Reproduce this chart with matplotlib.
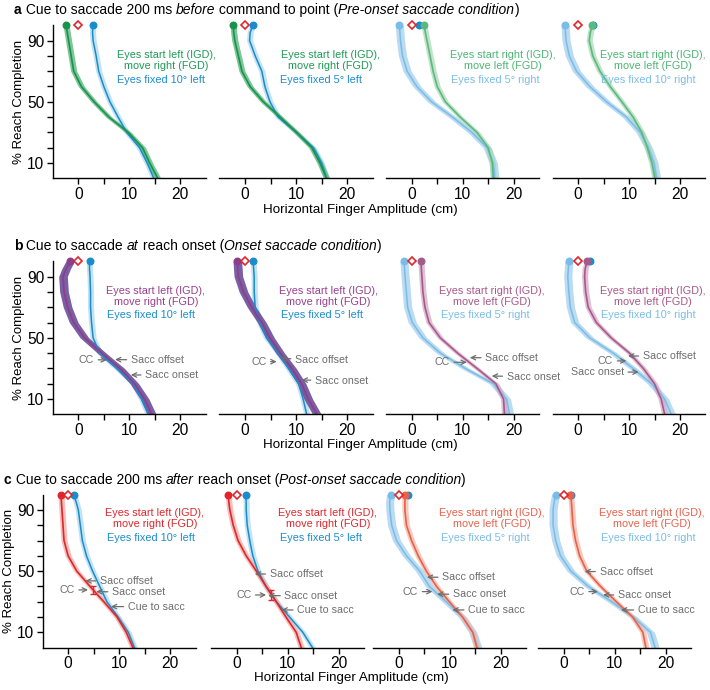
import numpy as np
import matplotlib
matplotlib.use('Agg')
import matplotlib.pyplot as plt

plt.rcParams['font.family'] = ['Liberation Sans', 'DejaVu Sans']

W, H = 710, 690

levels = [100, 95, 90, 80, 70, 60, 50, 40, 30, 20, 10, 0]

# finger amplitude (cm), saccade trials, one list per panel (columns 1-4)
a_sacc = [
    [-2.4, -2.15, -1.9, -1.4, -0.9, 0.6, 3.1, 6.0, 9.8, 12.6, 14.0, 15.6],
    [-2.3, -2.2, -2.0, -1.3, -0.6, 1.0, 3.6, 6.9, 10.1, 13.1, 14.7, 16.0],
    [2.4, 2.7, 3.0, 3.6, 4.2, 5.0, 6.6, 9.5, 12.8, 15.0, 15.8, 16.0],
    [2.8, 2.4, 2.2, 2.9, 4.3, 6.3, 8.6, 10.8, 12.5, 13.6, 14.5, 15.1],
]
a_fix = [
    [2.8, 2.8, 2.9, 3.5, 4.0, 5.0, 6.2, 7.8, 9.5, 12.0, 13.5, 14.8],
    [1.5, 1.0, 0.9, 2.0, 3.3, 3.9, 4.9, 6.5, 10.1, 13.4, 15.0, 16.0],
    [-2.4, -2.3, -2.2, -1.8, -0.9, 1.0, 3.9, 8.0, 11.8, 14.8, 16.0, 16.3],
    [-2.55, -2.45, -2.35, -1.7, -0.3, 2.3, 5.6, 9.5, 12.2, 13.8, 14.9, 15.4],
]
b_sacc = [
    [-1.6, -2.4, -3.0, -2.8, -2.1, -0.9, 1.2, 4.6, 8.2, 11.0, 13.0, 14.4],
    [-1.5, -1.4, -1.3, -0.3, 1.3, 3.3, 4.9, 6.9, 9.2, 11.1, 12.4, 14.1],
    [1.8, 1.9, 2.0, 2.2, 2.6, 3.4, 5.6, 9.0, 12.8, 16.5, 18.0, 18.2],
    [1.8, 1.4, 1.3, 1.5, 2.0, 3.6, 6.5, 10.1, 12.8, 15.0, 16.3, 17.0],
]
b_fix = [
    [2.2, 2.2, 2.3, 2.4, 2.4, 2.6, 2.9, 4.2, 7.5, 10.8, 12.4, 13.7],
    [1.6, 1.7, 1.8, 1.8, 2.0, 2.9, 4.2, 6.5, 8.5, 10.5, 11.4, 12.1],
    [-1.5, -1.4, -1.3, -1.05, -0.8, 0.1, 2.2, 5.6, 10.5, 16.0, 18.6, 19.2],
    [-1.8, -1.9, -2.0, -1.8, -1.5, -0.65, 2.3, 6.9, 10.8, 14.4, 17.0, 18.3],
]
c_sacc = [
    [-1.4, -1.3, -1.2, -1.0, -0.8, 0.0, 1.7, 4.3, 7.0, 9.6, 11.4, 12.7],
    [-1.6, -1.5, -1.3, -0.65, 0.3, 1.9, 3.9, 5.8, 7.8, 9.7, 11.7, 12.7],
    [1.2, 1.2, 1.2, 1.5, 2.5, 3.8, 5.4, 7.4, 9.9, 12.5, 14.5, 15.3],
    [1.3, 1.5, 1.6, 1.8, 2.3, 3.1, 4.5, 7.2, 10.3, 13.5, 15.5, 16.1],
]
c_fix = [
    [1.1, 1.6, 2.0, 2.4, 2.8, 3.6, 4.8, 6.2, 7.6, 9.8, 11.8, 13.0],
    [1.8, 1.9, 1.9, 2.1, 2.6, 3.2, 4.2, 5.8, 7.8, 10.4, 13.0, 14.9],
    [-1.6, -1.8, -1.75, -1.4, -0.45, 1.5, 4.1, 6.0, 9.3, 12.5, 14.5, 15.5],
    [-1.6, -1.9, -2.1, -2.1, -1.6, -0.65, 1.4, 4.8, 9.4, 13.6, 17.0, 17.9],
]
# extra start markers (fixation position) per panel
a_extra = [[], [], [1.5], [2.9]]
b_extra = [[], [], [], [2.3]]
c_extra = [[], [], [1.8], [1.5]]

# CC spread shown as a small bar on the post-onset left panels: (x, y, half range)
c_cc_bars = [(4.9, 37.7, 2.5), (6.8, 34.4, 3.0), None, None]

# saccade events: (label, x, y) in data units
b_events = [
    [('CC', 5.6, 35.5), ('Sacc offset', 7.2, 35.8), ('Sacc onset', 10.3, 25.7)],
    [('CC', 6.2, 34.4), ('Sacc offset', 6.9, 36.6), ('Sacc onset', 11.1, 22.4)],
    [('CC', 10.8, 34.0), ('Sacc offset', 11.4, 37.0), ('Sacc onset', 15.7, 25.0)],
    [('CC', 9.5, 34.9), ('Sacc offset', 9.8, 38.1), ('Sacc onset', 11.9, 27.6)],
]
c_events = [
    [('CC', 3.9, 37.7), ('Sacc offset', 3.4, 43.6), ('Sacc onset', 5.5, 36.6), ('Cue to sacc', 8.4, 26.8)],
    [('CC', 5.8, 34.4), ('Sacc offset', 3.6, 48.1), ('Sacc onset', 6.2, 34.0), ('Cue to sacc', 8.8, 24.6)],
    [('CC', 6.6, 36.6), ('Sacc offset', 5.5, 46.0), ('Sacc onset', 7.5, 34.9), ('Cue to sacc', 10.5, 24.6)],
    [('CC', 6.7, 36.6), ('Sacc offset', 4.1, 49.7), ('Sacc onset', 7.7, 34.4), ('Cue to sacc', 11.2, 24.6)],
]
# label offsets from the arrow tip (x, y in data units)
b_offsets = [
    [(-2.5, 0.3), (3.1, -0.5), (2.8, 0)],
    [(-2.0, 0), (2.9, -1.1), (2.6, -0.4)],
    [(-3.3, 0), (3.0, 0), (2.9, -0.4)],
    [(-2.6, 0), (2.9, 0), (-2.9, 0)],
]
c_offsets = [
    [(-2.6, 0), (2.8, 0), (3.1, -0.4), (3.3, 0)],
    [(-2.9, 0), (2.9, 0), (3.2, -0.2), (3.1, 0)],
    [(-2.8, 0), (3.0, 0), (3.1, 0), (3.1, 0)],
    [(-2.6, 0), (2.9, 0), (2.9, 0), (3.3, 0)],
]

sacc_text = ['Eyes start left (IGD),\nmove right (FGD)'] * 2 + ['Eyes start right (IGD),\nmove left (FGD)'] * 2
fix_text = ['Eyes fixed 10° left', 'Eyes fixed 5° left', 'Eyes fixed 5° right', 'Eyes fixed 10° right']

titles = [
    [('a', 'bold'), (' Cue to saccade 200 ms ', 'normal'), ('before', 'italic'),
     (' command to point (', 'normal'), ('Pre-onset saccade condition', 'italic'), (')', 'normal')],
    [('b', 'bold'), (' Cue to saccade ', 'normal'), ('at', 'italic'),
     (' reach onset (', 'normal'), ('Onset saccade condition', 'italic'), (')', 'normal')],
    [('c', 'bold'), (' Cue to saccade 200 ms ', 'normal'), ('after', 'italic'),
     (' reach onset (', 'normal'), ('Post-onset saccade condition', 'italic'), (')', 'normal')],
]

blue_dark = '#1a8ccc'
blue_light = '#79bde6'
gray = '#6d6d6d'
row_colors = [
    # (left sacc line, left band, right sacc line, right band, left text, right text)
    ('#17934c', '#48ad6c', '#5cb97e', '#a6d8b4', '#1f9a55', '#4db574'),
    ('#8e3d88', '#6a4e9a', '#a65a8c', '#d3a6c4', '#973f8d', '#a8578a'),
    ('#e0262b', '#f2a5a0', '#e8614a', '#f4b4a6', '#e0262b', '#e8614a'),
]

fig = plt.figure(figsize=(7.1, 6.9), dpi=100)
renderer = fig.canvas.get_renderer()


def size_for(text, width_px):
    # font size that gives the text the width it has in the original figure
    t = fig.text(0, 0, text, fontsize=10)
    w = t.get_window_extent(renderer).width
    t.remove()
    return 10 * width_px / w


fs_panel = size_for('Eyes start left (IGD),', 99)
fs_event = size_for('Sacc offset', 53)
fs_xlab = size_for('Horizontal Finger Amplitude (cm)', 196)
fs_ylab = size_for('% Reach Completion', 125)
fs_tick = size_for('20', 17.5)
fs_title = size_for('a Cue to saccade 200 ms before command to point (Pre-onset saccade condition)', 506)


def ax_rect(left, top, width, height):
    return [left / W, 1 - (top + height) / H, width / W, height / H]


def style_axis(ax, first):
    ax.set_xlim(-5, 25)
    ax.set_ylim(0, 100)
    ax.set_facecolor('none')
    for s in ['top', 'right']:
        ax.spines[s].set_visible(False)
    ax.spines['bottom'].set_linewidth(1.0)
    ax.set_xticks([0, 5, 10, 15, 20])
    ax.set_xticklabels(['0', '', '10', '', '20'])
    ax.tick_params(axis='x', length=4, width=1.0, labelsize=fs_tick, pad=2)
    if first:
        ax.spines['left'].set_linewidth(1.0)
        ax.set_yticks(range(10, 100, 10))
        ax.set_yticklabels(['10', '', '', '', '50', '', '', '', '90'])
        ax.tick_params(axis='y', length=4, width=1.0, labelsize=fs_tick, pad=2)
        ax.set_ylabel('% Reach Completion', fontsize=fs_ylab)
        ax.yaxis.set_label_coords(-0.18, 0.5)
    else:
        ax.spines['left'].set_visible(False)
        ax.set_yticks([])


def draw_trace(ax, x, color, band, halfw, lw=1.1, alpha=0.75):
    x = np.array(x)
    ax.fill_betweenx(levels, x - halfw, x + halfw, color=band, alpha=alpha, lw=0, zorder=1)
    ax.plot(x, levels, color=color, lw=lw, zorder=2)
    ax.plot(x[0], levels[0], 'o', color=color, ms=4.7, clip_on=False, zorder=4)


def draw_title(x_px, base_px, parts):
    x = x_px / W
    for text, style in parts:
        t = fig.text(x, 1 - base_px / H, text, fontsize=fs_title, va='baseline',
                     fontweight='bold' if style == 'bold' else 'normal',
                     fontstyle='italic' if style == 'italic' else 'normal')
        bb = t.get_window_extent(renderer)
        x += bb.width / fig.bbox.width


rows = [
    (a_sacc, a_fix, a_extra, None, None, [52.8, 219.5, 386.2, 552.5], 25.3, 14, 14, 360, 210),
    (b_sacc, b_fix, b_extra, b_events, b_offsets, [52.8, 219.5, 386.2, 552.5], 261.3, 14, 250, 360, 445),
    (c_sacc, c_fix, c_extra, c_events, c_offsets, [42.6, 211.0, 373.3, 538.3], 494.6, 4, 484.3, 351, 678),
]
text_pos = [
    [(17.2, 77.0, 7.6, 64.3), (16.7, 77.0, 6.9, 64.3), (17.8, 77.0, 7.7, 64.3), (14.6, 77.0, 4.5, 64.3)],
    [(15.2, 77.0, 5.7, 64.7), (16.4, 77.0, 7.0, 64.7), (15.8, 77.0, 5.7, 64.7), (14.6, 77.0, 4.5, 64.7)],
    [(17.0, 84.5, 7.6, 71.8), (17.9, 84.5, 8.5, 71.8), (18.2, 84.5, 8.3, 71.8), (17.2, 84.5, 7.3, 71.8)],
]

for r, (sacc, fix, extra, events, offsets, lefts, top, tx, tb, xl_x, xl_y) in enumerate(rows):
    cols = row_colors[r]
    for c in range(4):
        ax = fig.add_axes(ax_rect(lefts[c], top, 153, 153))
        style_axis(ax, c == 0)
        left = c < 2
        s_line = cols[0] if left else cols[2]
        s_band = cols[1] if left else cols[3]
        s_text = cols[4] if left else cols[5]
        f_line = blue_dark if left else blue_light
        f_band = '#b5dcef' if left else '#a9d3ef'
        f_half = 0.6 if left else 0.8
        s_half = 0.85 if (r == 1 and left) else 0.6
        draw_trace(ax, fix[c], f_line, f_band, f_half, lw=1.1, alpha=0.8)
        draw_trace(ax, sacc[c], s_line, s_band, s_half, lw=1.2,
                   alpha=0.9 if (r == 1 and left) else 0.7)
        for ex in extra[c]:
            ax.plot(ex, 100, 'o', color=blue_dark, ms=4.7, clip_on=False, zorder=3)
        ax.plot(0, 100, 'D', mfc='white', mec='#e0262b', mew=1.2, ms=4.3, clip_on=False, zorder=5)

        if r == 2 and c_cc_bars[c] is not None:
            bx, by, bh = c_cc_bars[c]
            ax.errorbar(bx, by, yerr=bh, color=s_line, lw=1.0, capsize=2, capthick=1.0, zorder=3)

        sx, sy, fx, fy = text_pos[r][c]
        ax.text(sx, sy, sacc_text[c], ha='center', va='center', fontsize=fs_panel,
                color=s_text, linespacing=1.05, clip_on=False)
        ax.text(fx, fy, fix_text[c], ha='left', va='center', fontsize=fs_panel,
                color=f_line, clip_on=False)

        if events is not None:
            for (lab, ex, ey), (dx, dy) in zip(events[c], offsets[c]):
                ax.annotate(lab, xy=(ex, ey), xytext=(ex + dx, ey + dy),
                            ha='right' if dx < 0 else 'left', va='center',
                            fontsize=fs_event, color=gray, annotation_clip=False,
                            arrowprops=dict(arrowstyle='->', color=gray, lw=0.9,
                                            shrinkA=1, shrinkB=0, mutation_scale=8))
    draw_title(tx, tb, titles[r])
    fig.text(xl_x / W, 1 - xl_y / H, 'Horizontal Finger Amplitude (cm)',
             ha='center', va='center', fontsize=fs_xlab)

fig.savefig('out.png', dpi=100)
